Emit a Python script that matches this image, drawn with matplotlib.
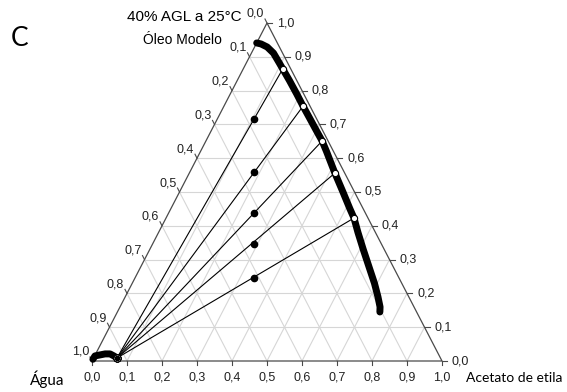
import numpy as np
import matplotlib
matplotlib.use("Agg")
import matplotlib.pyplot as plt

# compositions (mass fractions)
# organic (oil-rich) branch of the binodal curve
curve_oil = [0.941, 0.938, 0.929, 0.911, 0.882, 0.864, 0.83, 0.79, 0.754, 0.72, 0.68, 0.651,
             0.62, 0.58, 0.556, 0.50, 0.45, 0.423, 0.38, 0.33, 0.28, 0.23, 0.19, 0.16, 0.145]
curve_water = [0.059, 0.048, 0.035, 0.026, 0.024, 0.023, 0.021, 0.020, 0.020, 0.019, 0.018, 0.017,
               0.020, 0.025, 0.028, 0.033, 0.038, 0.040, 0.050, 0.060, 0.069, 0.078, 0.088, 0.097, 0.105]
# aqueous branch
aq_oil = [0.005, 0.015, 0.018, 0.021, 0.021, 0.015, 0.009]
aq_acetate = [0.0, 0.001, 0.014, 0.027, 0.041, 0.055, 0.067]
# tie lines: aqueous end and organic end
tie_aq_oil = [0.009, 0.009, 0.009, 0.009, 0.009]
tie_aq_acetate = [0.067, 0.067, 0.067, 0.067, 0.067]
tie_org_oil = [0.864, 0.754, 0.651, 0.556, 0.423]
tie_org_water = [0.023, 0.020, 0.017, 0.028, 0.040]
# overall mixture points
feed_oil = [0.716, 0.559, 0.438, 0.346, 0.246]
feed_acetate = [0.105, 0.183, 0.244, 0.290, 0.340]

tick_values = [0.0, 0.1, 0.2, 0.3, 0.4, 0.5, 0.6, 0.7, 0.8, 0.9, 1.0]
tick_labels = ["0,0", "0,1", "0,2", "0,3", "0,4", "0,5", "0,6", "0,7", "0,8", "0,9", "1,0"]


def to_xy(acetate, oil):
    acetate = np.asarray(acetate, dtype=float)
    oil = np.asarray(oil, dtype=float)
    return acetate + oil / 2, oil


W, H = 567, 392
fig = plt.figure(figsize=(W / 100, H / 100), dpi=100)
ax = fig.add_axes([0, 0, 1, 1])
# triangle in pixels: base 92..442 at y=361, apex at y=23
x0, x1, yb, yt = 92, 442, 361, 23
sx = x1 - x0
sy = yb - yt
ax.set_xlim(-x0 / sx, (W - x0) / sx)
ax.set_ylim(-(H - yb) / sy, yb / sy)
ax.axis("off")
px, py = 1 / sx, 1 / sy

# grid
grid_kw = dict(color="#d6d6d6", lw=0.8, zorder=1)
for v in tick_values[1:-1]:
    ax.plot(*to_xy([0, 1 - v], [v, v]), **grid_kw)
    ax.plot(*to_xy([v, v], [0, 1 - v]), **grid_kw)
    ax.plot(*to_xy([1 - v, 0], [0, 1 - v]), **grid_kw)

# triangle border
ax.plot(*to_xy([0, 1, 0, 0], [0, 0, 1, 0]), color="#4a4a4a", lw=0.9, zorder=2)

# ticks and labels
lab_kw = dict(fontsize=9, color="#222222", family="Liberation Sans")
for v, lab in zip(tick_values, tick_labels):
    # bottom: acetate
    ax.plot([v, v], [0, -4 * py], color="#4a4a4a", lw=0.8)
    ax.text(v, -17 * py, lab, ha="center", va="center", **lab_kw)
    # right: oil
    xr, yr = to_xy(1 - v, v)
    ax.plot([xr, xr + 5 * px], [yr, yr], color="#4a4a4a", lw=0.8)
    ax.text(xr + 10 * px, yr, lab, ha="left", va="center", **lab_kw)
    # left: water
    xl, yl = to_xy(0, 1 - v)
    ax.plot([xl, xl - 2 * px], [yl, yl + 4 * py], color="#4a4a4a", lw=0.8)
    ax.text(xl - 3 * px, yl + 9 * py, lab, ha="right", va="center", **lab_kw)

# tie lines
for ao, aa, oo, ow in zip(tie_aq_oil, tie_aq_acetate, tie_org_oil, tie_org_water):
    ax.plot(*to_xy([aa, 1 - oo - ow], [ao, oo]), color="black", lw=0.8, zorder=3)

# binodal curve
curve_acetate = 1 - np.asarray(curve_oil) - np.asarray(curve_water)
ax.plot(*to_xy(curve_acetate, curve_oil), color="black", lw=5,
        solid_capstyle="round", solid_joinstyle="round", zorder=4)
ax.plot(*to_xy(aq_acetate, aq_oil), color="black", lw=5,
        solid_capstyle="round", solid_joinstyle="round", zorder=4)

# tie line ends
org_acetate = 1 - np.asarray(tie_org_oil) - np.asarray(tie_org_water)
ax.plot(*to_xy(org_acetate, tie_org_oil), "o", ms=4.5, mfc="white", mec="black", mew=0.8, zorder=5)
ax.plot(*to_xy(tie_aq_acetate, tie_aq_oil), "o", ms=5, mfc="white", mec="black", mew=0.8, zorder=5)
ax.plot(*to_xy(tie_aq_acetate, tie_aq_oil), "o", ms=2.5, color="black", zorder=6)

# mixture points
ax.plot(*to_xy(feed_acetate, feed_oil), "o", ms=4.5, color="black", zorder=5)

# titles and component names
fig.text(20 / W, 1 - 38 / H, "C", fontsize=19, family="Lato", ha="center", va="center")
fig.text(184 / W, 1 - 17 / H, "40% AGL a 25°C", fontsize=11, family="Liberation Sans",
         ha="center", va="center")
fig.text(182 / W, 1 - 40 / H, "Óleo Modelo", fontsize=10, family="Liberation Sans",
         ha="center", va="center")
fig.text(47 / W, 1 - 379 / H, "Água", fontsize=11, family="Lato", ha="center", va="center")
fig.text(562 / W, 1 - 378 / H, "Acetato de etila", fontsize=10, family="Lato",
         ha="right", va="center")

fig.savefig("out.png", dpi=100)
